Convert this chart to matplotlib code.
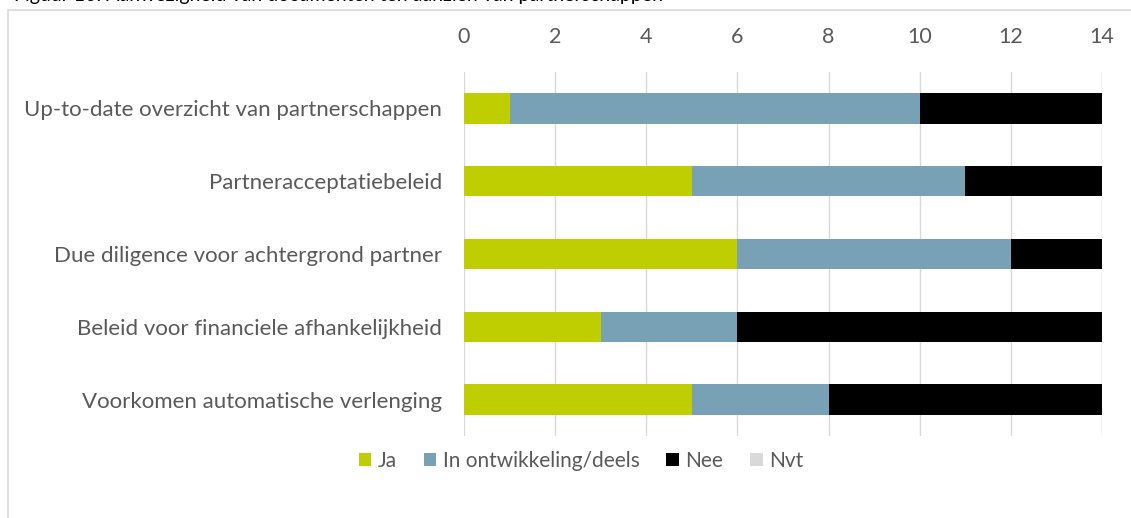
import matplotlib
matplotlib.use("Agg")
import matplotlib.pyplot as plt
from matplotlib.patches import Rectangle
import numpy as np

categories = [
    "Up-to-date overzicht van partnerschappen",
    "Partneracceptatiebeleid",
    "Due diligence voor achtergrond partner",
    "Beleid voor financiele afhankelijkheid",
    "Voorkomen automatische verlenging",
]
ja = [1, 5, 6, 3, 5]
in_ontwikkeling = [9, 6, 6, 3, 3]
nee = [4, 3, 2, 8, 6]
nvt = [0, 0, 0, 0, 0]
series_names = ["Ja", "In ontwikkeling/deels", "Nee", "Nvt"]
colors = ["#BFCE00", "#78A1B6", "#000000", "#D9D9D9"]
xticks = [0, 2, 4, 6, 8, 10, 12, 14]

plt.rcParams['font.family'] = ['Lato', 'DejaVu Sans']

W, H = 1131, 518
fig = plt.figure(figsize=(W / 100, H / 100), dpi=100)

# outer chart frame
fig.patches.append(Rectangle((8 / W, -0.1), 1.2, (H - 10) / H + 0.1,
                             transform=fig.transFigure, fill=False,
                             edgecolor="#D9D9D9", linewidth=1.2))
# caption, mostly cut off at the top edge as in the reference
fig.text(14 / W, 1 - 0.5 / H, "Figuur 10: Aanwezigheid van documenten ten aanzien van partnerschappen",
         fontsize=14, color="#000000", ha="left", va="baseline")

ax = fig.add_axes([464 / W, 1 - 436 / H, (1102 - 464) / W, (436 - 72) / H])
y = np.arange(len(categories))
left = np.zeros(len(categories))
handles = []
for vals, name, c in zip([ja, in_ontwikkeling, nee, nvt], series_names, colors):
    b = ax.barh(y, vals, left=left, height=0.42, color=c, label=name, zorder=3)
    handles.append(b)
    left = left + np.array(vals)

ax.set_xlim(0, 14)
ax.set_ylim(len(categories) - 0.5, -0.5)
ax.set_xticks(xticks)
ax.set_yticks(y)
ax.set_yticklabels(categories)
ax.xaxis.tick_top()
ax.tick_params(axis="x", length=0, pad=18, labelsize=15.5, labelcolor="#595959")
ax.tick_params(axis="y", length=0, pad=16, labelsize=16, labelcolor="#595959")
ax.grid(axis="x", color="#D9D9D9", linewidth=1.0, zorder=0)
for s in ax.spines.values():
    s.set_visible(False)

fig.legend(handles=handles, labels=series_names, loc="center",
           bbox_to_anchor=(581 / W, 1 - 461 / H), ncol=4, frameon=False,
           fontsize=15, labelcolor="#595959", handlelength=0.6, handleheight=0.6,
           handletextpad=0.3, columnspacing=1.3)

fig.savefig("out.png", dpi=100)
